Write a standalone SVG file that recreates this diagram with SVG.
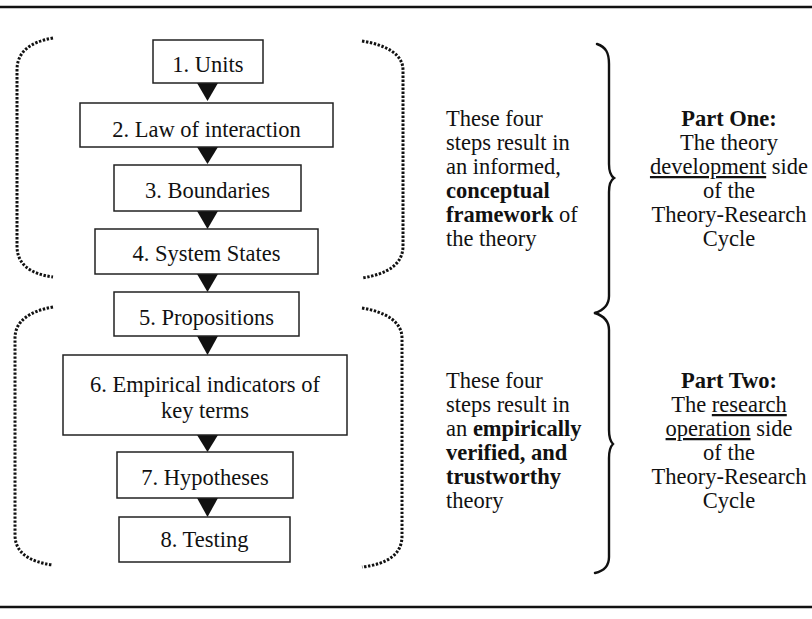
<svg xmlns="http://www.w3.org/2000/svg" width="812" height="619" viewBox="0 0 812 619">
<style>
.bg{fill:#ffffff}
.rule{stroke:#111;stroke-width:2.5;fill:none}
.box rect{fill:#fff;stroke:#222;stroke-width:1.5}
.box text{font-family:"Liberation Serif",serif;font-size:22.5px;fill:#111;text-anchor:middle}
.dots{fill:none;stroke:#111;stroke-width:3;stroke-dasharray:2.4 1.6}
.brace{fill:none;stroke:#111;stroke-width:2.4;stroke-linecap:round}
.arrow{fill:#111}
.t{font-family:"Liberation Serif",serif;font-size:22.5px;fill:#111}
.c{text-anchor:middle}
.b{font-weight:bold}
.u{text-decoration:underline}
</style>
<rect class="bg" x="0" y="0" width="812" height="619"/>
<line class="rule" x1="0" y1="7" x2="812" y2="7"/>
<line class="rule" x1="0" y1="607" x2="812" y2="607"/>

<g id="bracket-group1">
<path class="dots" d="M53,38 C30,42 17,52 17,70 L17,246 C17,264 30,274 53,277"/>
<path class="dots" d="M362,41 C386,45 403,54 403,70 L403,246 C403,264 388,274 362,278"/>
</g>
<g id="bracket-group2">
<path class="dots" d="M53,307 C30,311 15,321 15,338 L15,535 C15,553 30,562 53,565"/>
<path class="dots" d="M362,308 C386,312 402,322 402,338 L402,536 C402,554 388,564 362,567"/>
</g>

<g id="connectors">
<polygon class="arrow" points="197,83 218,83 207.5,101"/>
<polygon class="arrow" points="197,147 218,147 207.5,164"/>
<polygon class="arrow" points="197,211 218,211 207.5,229"/>
<polygon class="arrow" points="197,274 218,274 207.5,292"/>
<polygon class="arrow" points="197,336 218,336 207.5,355"/>
<polygon class="arrow" points="197,435 218,435 207.5,452"/>
<polygon class="arrow" points="197,498 218,498 207.5,517"/>
</g>

<g id="node1" class="box"><rect x="153" y="40" width="110" height="43"/><text x="208" y="72">1. Units</text></g>
<g id="node2" class="box"><rect x="80" y="103" width="253" height="44"/><text x="206.5" y="137">2. Law of interaction</text></g>
<g id="node3" class="box"><rect x="114" y="165" width="187" height="46"/><text x="207.5" y="198">3. Boundaries</text></g>
<g id="node4" class="box"><rect x="95" y="229" width="223" height="45"/><text x="206.5" y="261">4. System States</text></g>
<g id="node5" class="box"><rect x="114" y="292" width="185" height="44"/><text x="206.5" y="325">5. Propositions</text></g>
<g id="node6" class="box"><rect x="63" y="355" width="284" height="80"/><text x="205" y="392">6. Empirical indicators of</text><text x="205" y="418">key terms</text></g>
<g id="node7" class="box"><rect x="117" y="452" width="176" height="46"/><text x="205" y="485">7. Hypotheses</text></g>
<g id="node8" class="box"><rect x="119" y="517" width="171" height="45"/><text x="204.5" y="547">8. Testing</text></g>

<g id="braces">
<path class="brace" d="M597,44 C606,47 609,53 609,64 L609,164 C609,172 611,176 614,178 C611,180 609,184 609,192 L609,296 C609,305 604,310 595,313"/>
<path class="brace" d="M595,313 C604,316 609,321 609,330 L609,430 C609,438 611,442 613,444 C611,446 609,450 609,458 L609,557 C609,566 604,571 595,573"/>
</g>

<g id="desc1">
<text class="t" x="446" y="126">These four</text>
<text class="t" x="446" y="150">steps result in</text>
<text class="t" x="446" y="174">an informed,</text>
<text class="t b" x="446" y="198">conceptual</text>
<text class="t" x="446" y="222"><tspan class="b">framework</tspan> of</text>
<text class="t" x="446" y="246">the theory</text>
</g>
<g id="part1">
<text class="t c b" x="729" y="126">Part One:</text>
<text class="t c" x="729" y="150">The theory</text>
<text class="t c" x="729" y="174"><tspan class="u">development</tspan> side</text>
<text class="t c" x="729" y="198">of the</text>
<text class="t c" x="729" y="222">Theory-Research</text>
<text class="t c" x="729" y="246">Cycle</text>
</g>
<g id="desc2">
<text class="t" x="446" y="388">These four</text>
<text class="t" x="446" y="412">steps result in</text>
<text class="t" x="446" y="436">an <tspan class="b">empirically</tspan></text>
<text class="t b" x="446" y="460">verified, and</text>
<text class="t b" x="446" y="484">trustworthy</text>
<text class="t" x="446" y="508">theory</text>
</g>
<g id="part2">
<text class="t c b" x="729" y="388">Part Two:</text>
<text class="t c" x="729" y="412">The <tspan class="u">research</tspan></text>
<text class="t c" x="729" y="436"><tspan class="u">operation</tspan> side</text>
<text class="t c" x="729" y="460">of the</text>
<text class="t c" x="729" y="484">Theory-Research</text>
<text class="t c" x="729" y="508">Cycle</text>
</g>
</svg>
